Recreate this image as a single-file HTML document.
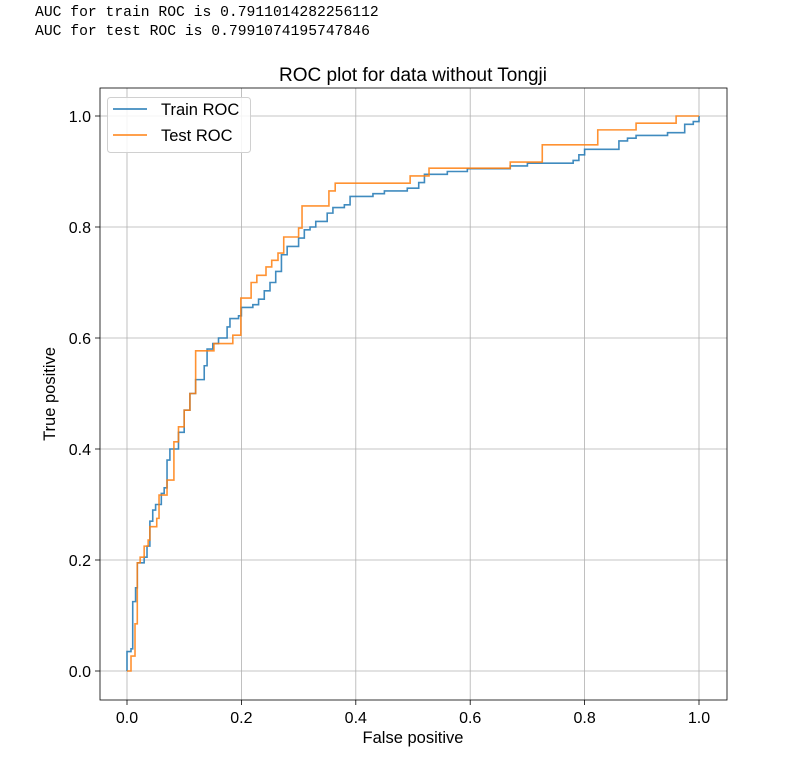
<!DOCTYPE html>
<html><head><meta charset="utf-8"><style>
body{margin:0;background:#fff;width:792px;height:765px;overflow:hidden}
.out{position:absolute;left:35px;font-family:"Liberation Mono",monospace;font-size:14.7px;color:#000;white-space:pre}
</style></head><body>
<div class="out" style="top:5px">AUC for train ROC is 0.7911014282256112</div>
<div class="out" style="top:24px">AUC for test ROC is 0.7991074195747846</div>
<svg id="chart" width="792" height="765" style="position:absolute;left:0;top:0" font-family="Liberation Sans, DejaVu Sans, sans-serif"></svg>
<script>
const trainFpr=[0,0,0.007,0.01,0.015,0.018,0.03,0.035,0.04,0.045,0.05,0.06,0.065,0.07,0.075,0.09,0.1,0.11,0.12,0.135,0.14,0.15,0.16,0.175,0.18,0.195,0.2,0.22,0.23,0.24,0.25,0.26,0.27,0.28,0.3,0.31,0.32,0.33,0.35,0.36,0.38,0.39,0.43,0.45,0.49,0.51,0.52,0.56,0.595,0.67,0.70,0.78,0.79,0.80,0.86,0.875,0.89,0.945,0.975,0.99,1];
const trainTpr=[0,0.035,0.04,0.125,0.15,0.195,0.205,0.225,0.27,0.29,0.3,0.32,0.33,0.38,0.40,0.43,0.47,0.50,0.525,0.55,0.58,0.59,0.60,0.62,0.635,0.64,0.655,0.66,0.67,0.685,0.70,0.72,0.75,0.765,0.78,0.795,0.80,0.81,0.825,0.835,0.84,0.855,0.86,0.865,0.87,0.88,0.895,0.9,0.905,0.91,0.915,0.92,0.93,0.94,0.955,0.96,0.965,0.97,0.985,0.99,1];
const testFpr=[0,0.007,0.014,0.018,0.023,0.03,0.037,0.04,0.052,0.056,0.07,0.082,0.09,0.1,0.11,0.12,0.152,0.185,0.199,0.217,0.227,0.243,0.253,0.264,0.274,0.3,0.306,0.353,0.364,0.495,0.528,0.67,0.726,0.823,0.89,0.96,1];
const testTpr=[0,0.027,0.085,0.195,0.205,0.225,0.236,0.26,0.275,0.317,0.344,0.413,0.44,0.47,0.5,0.577,0.59,0.605,0.672,0.70,0.713,0.728,0.74,0.753,0.782,0.798,0.838,0.865,0.879,0.892,0.906,0.917,0.948,0.975,0.987,1,1];
const xTicks=[0,0.2,0.4,0.6,0.8,1.0], yTicks=[0,0.2,0.4,0.6,0.8,1.0];
const tickLabels=["0.0","0.2","0.4","0.6","0.8","1.0"];
const X=v=>127+v*572, Y=v=>671-v*555;
const svg=document.getElementById('chart'), NS='http://www.w3.org/2000/svg';
function mk(t,a,p){const e=document.createElementNS(NS,t);for(const k in a)e.setAttribute(k,a[k]);(p||svg).appendChild(e);return e;}
let e;
xTicks.forEach((v,i)=>{
 e=mk('line',{x1:X(v),x2:X(v),y1:88,y2:700,stroke:'#b0b0b0','stroke-width':0.8});
 
 
 mk('line',{x1:X(v),x2:X(v),y1:700,y2:705,stroke:'#000','stroke-width':0.8});
 e=mk('text',{x:X(v),y:723,'text-anchor':'middle','font-size':16,fill:'#000'});e.textContent=tickLabels[i];
 
 
});
yTicks.forEach((v,i)=>{
 e=mk('line',{x1:100,x2:727,y1:Y(v),y2:Y(v),stroke:'#b0b0b0','stroke-width':0.8});
 
 
 mk('line',{x1:95,x2:100,y1:Y(v),y2:Y(v),stroke:'#000','stroke-width':0.8});
 e=mk('text',{x:91,y:Y(v)+6,'text-anchor':'end','font-size':16,fill:'#000'});e.textContent=tickLabels[i];
 
 
});
function step(fx,fy){let d='M'+X(fx[0])+','+Y(fy[0]);for(let i=1;i<fx.length;i++){d+=' L'+X(fx[i])+','+Y(fy[i-1])+' L'+X(fx[i])+','+Y(fy[i]);}return d;}
e=mk('path',{d:step(trainFpr,trainTpr),fill:'none',stroke:'#1f77b4','stroke-width':1.6,'stroke-opacity':0.85});


e=mk('path',{d:step(testFpr,testTpr),fill:'none',stroke:'#ff7f0e','stroke-width':1.6,'stroke-opacity':0.85});


e=mk('rect',{x:100,y:88,width:627,height:612,fill:'none',stroke:'#000','stroke-width':0.8});


e=mk('text',{x:413,y:81,'text-anchor':'middle','font-size':19,fill:'#000'});e.textContent='ROC plot for data without Tongji';


e=mk('text',{x:413,y:743,'text-anchor':'middle','font-size':16.5,fill:'#000'});e.textContent='False positive';


e=mk('text',{x:55,y:394,'text-anchor':'middle','font-size':16.5,fill:'#000',transform:'rotate(-90 55 394)'});e.textContent='True positive';


const lg=mk('g',{});


mk('rect',{x:107.5,y:97.5,width:143,height:55,rx:3,fill:'#fff','fill-opacity':0.85,stroke:'#d0d0d0'},lg);
e=mk('line',{x1:113,x2:147,y1:109,y2:109,stroke:'#1f77b4','stroke-width':1.8,'stroke-opacity':0.85},lg);


e=mk('text',{x:161,y:115,'font-size':16.5,fill:'#000'},lg);e.textContent='Train ROC';


e=mk('line',{x1:113,x2:147,y1:135,y2:135,stroke:'#ff7f0e','stroke-width':1.8,'stroke-opacity':0.85},lg);


e=mk('text',{x:161,y:141,'font-size':16.5,fill:'#000'},lg);e.textContent='Test ROC';


</script>
</body></html>
